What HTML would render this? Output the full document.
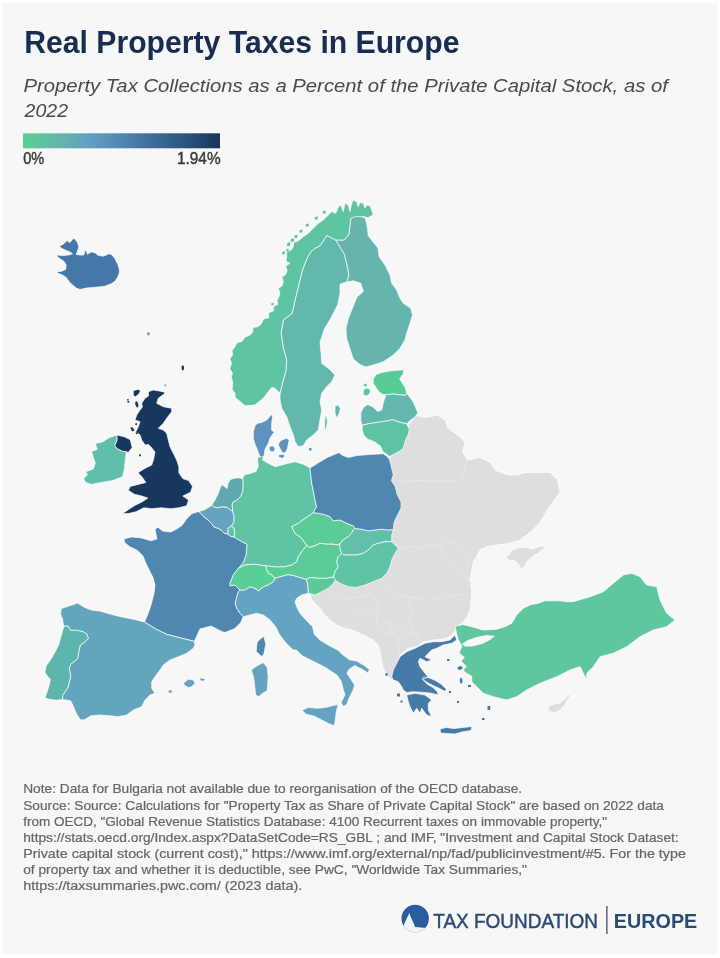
<!DOCTYPE html>
<html lang="en"><head><meta charset="utf-8"><title>Real Property Taxes in Europe</title>
<style>
html,body{margin:0;padding:0;background:#ffffff;}
body{width:720px;height:958px;position:relative;overflow:hidden;}
#card{position:absolute;left:2px;top:3px;width:715px;height:951px;background:#f7f7f7;}
svg{position:absolute;left:0;top:0;}
text{font-family:"Liberation Sans",Arial,sans-serif;}
</style></head>
<body>
<div id="card"></div>
<svg width="720" height="958" viewBox="0 0 720 958">
<defs>
<linearGradient id="lg" x1="0" x2="1" y1="0" y2="0">
<stop offset="0" stop-color="#56d394"/>
<stop offset="0.2" stop-color="#62b4ae"/>
<stop offset="0.35" stop-color="#639cc2"/>
<stop offset="0.5" stop-color="#4f87b3"/>
<stop offset="0.65" stop-color="#3f6c9a"/>
<stop offset="0.81" stop-color="#2a5882"/>
<stop offset="0.95" stop-color="#1b3e66"/>
<stop offset="1" stop-color="#183558"/>
</linearGradient>
</defs>
<text x="24.2" y="52.5" font-size="30.7" font-weight="bold" fill="#182d50" textLength="435.3" lengthAdjust="spacingAndGlyphs">Real Property Taxes in Europe</text>
<text x="23.5" y="91.7" font-size="19.1" font-style="italic" fill="#4a4a4a" textLength="644.4" lengthAdjust="spacingAndGlyphs">Property Tax Collections as a Percent of the Private Capital Stock, as of</text>
<text x="24.6" y="117" font-size="19.1" font-style="italic" fill="#4a4a4a" textLength="43.5" lengthAdjust="spacingAndGlyphs">2022</text>
<rect x="23" y="133.3" width="197" height="15" fill="url(#lg)"/>
<text x="23.2" y="163.6" font-size="16.6" fill="#3a3a3a" stroke="#3a3a3a" stroke-width="0.45" textLength="21" lengthAdjust="spacingAndGlyphs">0%</text>
<text x="177" y="163.6" font-size="16.6" fill="#3a3a3a" stroke="#3a3a3a" stroke-width="0.45" textLength="43.6" lengthAdjust="spacingAndGlyphs">1.94%</text>
<g id="map">
<path d="M408.0 426.0 L412.0 420.5 L416.0 415.5 L425.0 417.5 L437.5 415.0 L445.0 420.0 L447.5 427.5 L457.5 435.0 L465.0 442.5 L462.5 452.5 L467.5 460.0 L480.0 457.5 L490.0 462.5 L495.0 470.0 L507.5 475.0 L517.5 475.0 L525.0 472.5 L537.5 472.5 L550.0 472.5 L557.5 480.0 L560.0 492.5 L552.5 502.5 L547.5 510.0 L540.0 522.5 L530.0 532.5 L520.0 540.0 L507.5 543.8 L497.5 545.0 L487.5 546.2 L480.0 550.0 L476.0 558.0 L473.3 562.0 L471.7 570.0 L470.0 580.0 L471.7 590.0 L471.0 600.0 L470.0 610.0 L467.0 617.0 L463.3 622.0 L458.0 626.5 L455.0 631.0 L450.0 636.7 L443.3 639.2 L433.3 640.0 L423.3 641.7 L416.7 646.7 L408.3 648.3 L400.0 655.0 L395.0 668.3 L393.3 680.0 L391.7 680.0 L386.7 675.0 L383.3 668.3 L381.7 660.0 L380.0 651.7 L378.3 645.0 L373.3 640.0 L366.7 636.7 L360.0 633.3 L351.7 630.0 L345.0 628.3 L336.7 625.0 L330.0 620.0 L323.3 613.3 L320.0 608.3 L316.7 605.0 L311.7 600.0 L310.0 593.3 L320.0 588.0 L335.0 578.0 L360.0 575.0 L385.0 560.0 L388.0 535.0 L395.0 500.0 L388.0 470.0 L389.0 458.0 L394.0 454.0 L400.0 449.0 L404.0 436.0Z" fill="#dedede" stroke="#ffffff" stroke-width="0.7" stroke-linejoin="round"/>
<path d="M506.1 557.5 L511.7 550.6 L518.6 547.8 L525.6 547.1 L532.5 549.2 L539.4 546.4 L545.0 545.7 L543.6 549.2 L538.0 553.3 L531.1 557.5 L526.9 561.7 L524.2 567.2 L521.4 568.6 L518.6 564.4 L514.4 560.3 L508.9 560.3Z" fill="#dedede" stroke="#ffffff" stroke-width="0.7" stroke-linejoin="round"/>
<path d="M548.0 711.0 L549.0 706.0 L554.0 704.0 L560.0 703.0 L565.0 699.0 L569.0 694.0 L570.5 695.0 L567.0 701.0 L564.0 706.0 L560.0 710.0 L555.0 713.0Z" fill="#dedede" stroke="#ffffff" stroke-width="0.7" stroke-linejoin="round"/>
<path d="M400.0 481.0 L420.0 480.5 L440.0 480.8 L461.7 480.0 L465.0 470.0 L466.0 458.0M398.3 548.3 L410.0 546.5 L422.0 547.5 L432.0 545.0 L440.0 546.0M440.0 546.0 L447.0 556.0 L455.0 566.0 L462.0 574.0 L468.0 580.0 L472.0 584.0M440.0 546.0 L446.0 541.5 L454.0 543.5 L461.0 549.0 L466.0 558.0 L468.5 568.0 L466.0 576.0 L469.0 582.0M386.7 589.0 L398.0 597.0 L408.9 596.5 L420.0 599.0 L431.0 600.5 L443.0 598.0 L453.3 595.6 L463.0 594.0 L471.0 593.3M381.7 578.3 L383.0 584.0 L386.7 589.0M408.9 596.5 L410.0 604.0 L412.0 612.0 L410.5 620.0 L412.5 628.0 L417.0 636.0 L418.0 643.0M365.0 585.0 L367.0 590.0 L372.0 594.5M331.0 595.6 L342.0 598.0 L353.0 597.8 L364.0 596.5 L372.0 594.5M372.0 594.5 L376.0 603.0 L378.0 612.0 L377.0 619.0M345.0 628.3 L352.0 620.0 L358.0 611.0 L365.0 607.0 L372.0 612.0 L377.0 619.0M377.0 619.0 L383.0 622.0 L390.0 624.0 L397.0 626.0 L404.0 627.0M377.0 619.0 L376.0 626.0 L381.5 634.0M381.5 634.0 L388.0 632.0 L392.0 635.0 L398.0 640.0 L400.0 648.0 L399.0 655.0M390.0 624.0 L392.0 630.0 L398.0 640.0M404.0 627.0 L410.5 620.0M398.0 640.0 L404.0 637.0 L411.0 634.0 L417.0 636.0" fill="none" stroke="#e7e7e7" stroke-width="0.8" stroke-linejoin="round"/>
<path d="M243.3 616.7 L250.0 615.0 L256.7 613.3 L263.3 615.0 L270.0 620.0 L275.6 626.7 L279.4 634.4 L285.3 642.2 L293.1 650.0 L296.4 650.0 L302.2 655.8 L310.0 659.7 L317.8 663.6 L325.6 667.5 L331.4 671.4 L337.2 675.3 L341.1 681.1 L343.1 688.9 L345.0 694.7 L341.1 702.5 L343.1 706.4 L346.9 704.4 L348.9 698.6 L352.8 690.8 L354.7 685.0 L350.8 679.2 L346.9 673.3 L348.9 669.4 L354.7 665.6 L362.5 669.4 L368.3 673.3 L369.3 669.4 L364.4 665.6 L356.7 661.0 L349.4 659.7 L341.7 653.9 L337.8 650.0 L330.0 646.1 L320.3 640.3 L314.4 634.4 L312.5 626.7 L306.7 620.8 L300.0 613.3 L296.7 606.7 L295.0 601.7 L296.7 598.3 L301.7 595.0 L308.3 593.3 L308.0 586.0 L306.6 579.5 L300.0 577.5 L293.5 575.5 L288.0 574.5 L280.0 576.7 L275.0 578.3 L273.3 581.7 L268.3 585.0 L263.3 586.7 L258.3 590.8 L255.0 588.3 L250.0 586.7 L245.0 590.0 L240.0 590.0 L238.3 591.7 L236.7 596.7 L235.0 603.3 L236.7 608.3 L240.0 613.3ZM302.2 710.3 L308.1 707.4 L317.8 708.3 L325.6 707.4 L333.3 705.4 L338.2 704.4 L336.2 712.2 L335.3 720.0 L334.3 725.8 L329.4 723.9 L321.7 720.0 L313.9 716.1 L306.1 714.2ZM251.7 669.4 L257.5 665.6 L263.3 662.6 L267.2 667.5 L268.2 677.2 L267.2 690.8 L263.3 692.8 L258.5 696.7 L255.6 694.7 L254.6 685.0 L253.6 677.2 L251.7 671.4Z" fill="#64a3c2" stroke="#ffffff" stroke-width="0.7" stroke-linejoin="round"/>
<path d="M242.6 478.7 L244.0 475.0 L250.0 473.5 L256.0 471.5 L258.3 466.0 L257.5 460.0 L258.0 457.0 L264.0 456.5 L262.5 460.0 L268.3 463.3 L275.0 466.7 L281.7 465.0 L288.3 463.3 L295.0 461.7 L303.3 464.2 L308.3 467.0 L310.0 468.0 L310.7 475.0 L311.7 483.0 L313.6 492.5 L315.0 500.0 L316.7 506.7 L313.3 512.5 L311.7 514.2 L305.0 518.3 L298.3 523.3 L291.7 526.7 L295.0 533.3 L301.7 538.3 L306.7 545.5 L301.7 551.7 L298.3 556.7 L296.7 561.7 L291.7 565.0 L285.0 566.7 L276.4 567.1 L268.6 566.1 L265.5 566.0 L260.0 565.0 L253.3 564.2 L245.0 565.0 L238.3 568.3 L243.0 563.0 L246.0 555.4 L247.0 544.5 L240.0 540.8 L234.0 537.0 L234.8 533.2 L233.9 528.3 L231.5 526.0 L233.9 521.5 L233.9 516.6 L232.5 511.0 L232.5 508.0 L231.9 505.0 L232.9 502.1 L236.8 500.1 L240.7 496.2 L242.6 491.4 L243.1 484.6Z" fill="#5ec4a3" stroke="#ffffff" stroke-width="0.7" stroke-linejoin="round"/>
<path d="M199.0 511.5 L191.9 513.6 L186.1 519.4 L182.2 525.3 L176.4 529.2 L170.6 532.1 L162.8 531.1 L157.9 527.2 L155.0 529.2 L156.9 538.9 L151.1 540.8 L141.4 537.9 L131.7 536.9 L123.9 538.9 L124.9 542.8 L129.7 546.7 L137.5 550.6 L143.3 556.4 L145.3 562.2 L149.2 570.0 L153.1 577.8 L155.0 585.6 L154.0 593.3 L151.0 605.0 L147.5 615.0 L144.4 621.9 L155.6 628.9 L166.7 634.4 L177.8 637.2 L188.9 640.0 L194.4 641.4 L200.0 628.9 L211.1 626.1 L222.2 631.7 L225.0 632.5 L234.7 628.6 L240.6 622.8 L243.3 616.7 L240.0 613.3 L236.7 608.3 L235.0 603.3 L236.7 596.7 L238.3 591.7 L240.0 590.0 L235.0 585.0 L230.0 585.8 L230.0 583.3 L233.3 575.0 L238.3 568.3 L243.0 563.0 L246.0 555.4 L247.0 544.5 L240.0 540.8 L234.0 537.0 L230.0 536.1 L228.0 534.1 L224.2 533.2 L221.2 530.3 L218.3 528.3 L214.4 527.3 L211.5 523.5 L207.6 519.6 L202.8 515.7ZM263.9 636.4 L265.8 644.2 L263.9 653.9 L261.5 656.5 L258.0 653.0 L256.1 651.9 L257.1 642.2 L261.0 638.3Z" fill="#5087b0" stroke="#ffffff" stroke-width="0.7" stroke-linejoin="round"/>
<path d="M60.5 614.0 L61.2 608.6 L73.4 604.5 L77.5 603.1 L84.3 607.2 L91.1 609.9 L100.6 611.3 L110.0 614.0 L119.4 616.4 L133.3 619.2 L144.4 621.9 L155.6 628.9 L166.7 634.4 L177.8 637.2 L188.9 640.0 L194.4 641.4 L195.0 645.0 L193.3 648.3 L186.7 653.3 L178.3 656.7 L170.0 660.0 L163.3 665.0 L160.0 670.0 L155.0 676.7 L151.7 681.7 L151.7 688.3 L155.0 693.3 L150.0 695.0 L145.0 700.0 L141.7 706.7 L133.3 710.0 L126.7 715.0 L118.3 716.7 L110.0 715.8 L100.0 715.0 L91.1 715.8 L84.3 719.8 L80.2 719.8 L76.1 713.0 L73.4 706.3 L70.7 700.8 L62.6 699.5 L62.6 695.4 L65.3 691.3 L68.0 687.3 L69.3 681.8 L70.7 676.4 L69.3 668.3 L70.7 664.2 L77.5 658.8 L78.8 652.0 L80.2 645.2 L84.3 642.5 L88.3 638.4 L87.0 634.3 L82.9 631.6 L76.1 630.3 L70.7 630.3 L68.0 626.2 L63.9 626.2 L63.2 623.5 L62.6 619.4ZM183.3 683.3 L188.3 679.2 L193.3 680.0 L195.0 683.3 L191.7 686.7 L188.3 687.5 L185.0 685.8Z" fill="#63a5bd" stroke="#ffffff" stroke-width="0.7" stroke-linejoin="round"/>
<path d="M200.0 678.3 L205.0 679.2 L203.3 680.8 L200.8 680.5ZM168.3 690.8 L171.7 690.0 L171.7 692.5 L169.2 693.0Z" fill="#63a5bd"/>
<path d="M63.9 626.2 L68.0 626.2 L70.7 630.3 L76.1 630.3 L82.9 631.6 L87.0 634.3 L88.3 638.4 L84.3 642.5 L80.2 645.2 L78.8 652.0 L77.5 658.8 L70.7 664.2 L69.3 668.3 L70.7 676.4 L69.3 681.8 L68.0 687.3 L65.3 691.3 L62.6 695.4 L62.6 699.5 L57.1 700.2 L50.4 699.5 L44.9 698.1 L46.3 694.0 L49.0 685.9 L50.4 679.1 L47.6 676.4 L44.9 672.3 L46.3 665.6 L50.4 660.1 L54.4 653.3 L58.5 645.2 L61.2 635.7Z" fill="#5fb5ae" stroke="#ffffff" stroke-width="0.7" stroke-linejoin="round"/>
<path d="M306.7 545.5 L301.7 538.3 L295.0 533.3 L291.7 526.7 L298.3 523.3 L305.0 518.3 L311.7 514.2 L313.3 512.5 L323.3 514.2 L330.0 516.7 L333.3 520.8 L340.0 520.0 L346.7 523.3 L353.3 525.8 L355.0 528.5 L353.3 530.0 L351.7 533.3 L348.3 536.7 L343.3 540.0 L340.0 543.5 L338.3 545.0 L333.3 544.2 L326.7 544.2 L320.0 543.3 L316.7 545.0 L310.0 547.5Z" fill="#5ccb98" stroke="#ffffff" stroke-width="0.7" stroke-linejoin="round"/>
<path d="M265.5 566.0 L268.6 566.1 L276.4 567.1 L285.0 566.7 L291.7 565.0 L296.7 561.7 L298.3 556.7 L301.7 551.7 L306.7 545.5 L310.0 547.5 L316.7 545.0 L320.0 543.3 L326.7 544.2 L333.3 544.2 L338.3 545.0 L340.0 543.5 L340.0 548.3 L341.7 553.5 L338.3 556.7 L336.7 561.7 L338.3 566.7 L335.0 571.7 L333.5 577.0 L326.7 578.3 L318.3 578.3 L310.0 577.5 L306.6 579.5 L300.0 577.5 L293.5 575.5 L288.0 574.5 L280.0 576.7 L275.0 578.3 L271.7 575.0 L268.3 573.3 L266.7 570.0Z" fill="#5ccb98" stroke="#ffffff" stroke-width="0.7" stroke-linejoin="round"/>
<path d="M238.3 568.3 L245.0 565.0 L253.3 564.2 L260.0 565.0 L265.5 566.0 L266.7 570.0 L268.3 573.3 L271.7 575.0 L275.0 578.3 L273.3 581.7 L268.3 585.0 L263.3 586.7 L258.3 590.8 L255.0 588.3 L250.0 586.7 L245.0 590.0 L240.0 590.0 L235.0 585.0 L230.0 585.8 L230.0 583.3 L233.3 575.0Z" fill="#58d095" stroke="#ffffff" stroke-width="0.7" stroke-linejoin="round"/>
<path d="M340.0 543.5 L343.3 540.0 L348.3 536.7 L351.7 533.3 L353.3 530.0 L355.0 528.5 L361.7 529.2 L368.3 530.8 L375.0 530.0 L381.7 529.2 L388.3 530.0 L393.3 529.5 L391.7 535.0 L391.7 541.7 L385.0 541.7 L378.3 543.3 L373.3 545.0 L368.3 550.0 L363.3 553.3 L356.7 555.0 L350.0 555.0 L343.3 555.0 L341.7 553.5 L340.0 548.3Z" fill="#62bfa8" stroke="#ffffff" stroke-width="0.7" stroke-linejoin="round"/>
<path d="M341.7 553.5 L343.3 555.0 L350.0 555.0 L356.7 555.0 L363.3 553.3 L368.3 550.0 L373.3 545.0 L378.3 543.3 L385.0 541.7 L391.7 541.7 L395.0 545.0 L398.3 548.3 L395.0 553.3 L391.7 560.0 L390.0 566.7 L386.7 573.3 L381.7 578.3 L373.3 581.7 L365.0 585.0 L356.7 587.5 L348.3 586.7 L340.0 583.3 L335.5 580.5 L333.5 577.0 L335.0 571.7 L338.3 566.7 L336.7 561.7 L338.3 556.7Z" fill="#60c2a6" stroke="#ffffff" stroke-width="0.7" stroke-linejoin="round"/>
<path d="M333.5 577.0 L326.7 578.3 L318.3 578.3 L310.0 577.5 L306.6 579.5 L308.0 586.0 L308.3 593.3 L315.0 595.0 L321.7 591.7 L328.3 588.3 L333.3 583.3 L335.5 580.5Z" fill="#5cc99a" stroke="#ffffff" stroke-width="0.7" stroke-linejoin="round"/>
<path d="M310.0 468.0 L310.7 475.0 L311.7 483.0 L313.6 492.5 L315.0 500.0 L316.7 506.7 L313.3 512.5 L323.3 514.2 L330.0 516.7 L333.3 520.8 L340.0 520.0 L346.7 523.3 L353.3 525.8 L355.0 528.5 L361.7 529.2 L368.3 530.8 L375.0 530.0 L381.7 529.2 L388.3 530.0 L393.3 529.5 L394.2 522.0 L397.2 515.8 L401.1 508.1 L401.1 502.2 L397.2 494.4 L395.3 486.7 L391.4 480.8 L393.3 475.0 L391.4 467.2 L391.0 465.0 L389.4 459.4 L387.2 456.5 L383.3 453.8 L368.1 454.6 L356.4 455.6 L348.6 457.5 L342.8 455.6 L338.9 452.6 L327.2 457.5 L317.5 463.3Z" fill="#5087b0" stroke="#ffffff" stroke-width="0.7" stroke-linejoin="round"/>
<path d="M211.5 505.5 L215.4 499.2 L218.3 493.3 L220.3 487.5 L222.2 484.6 L224.2 486.5 L227.1 488.5 L228.0 483.6 L230.0 479.7 L233.9 478.3 L238.7 477.8 L242.6 478.7 L243.1 484.6 L242.6 491.4 L240.7 496.2 L236.8 500.1 L232.9 502.1 L231.9 505.0 L232.5 508.0 L232.5 511.0 L230.0 509.8 L227.1 507.4 L222.2 506.9 L216.4 507.9Z" fill="#62a8b0" stroke="#ffffff" stroke-width="0.7" stroke-linejoin="round"/>
<path d="M199.0 511.5 L204.7 509.8 L211.5 505.5 L216.4 507.9 L222.2 506.9 L227.1 507.4 L230.0 509.8 L232.5 511.0 L233.9 516.6 L233.9 521.5 L231.5 526.0 L228.0 528.3 L228.0 534.1 L224.2 533.2 L221.2 530.3 L218.3 528.3 L214.4 527.3 L211.5 523.5 L207.6 519.6 L202.8 515.7Z" fill="#65a3c0" stroke="#ffffff" stroke-width="0.7" stroke-linejoin="round"/>
<path d="M231.5 526.0 L228.0 528.3 L228.0 534.1 L230.0 536.1 L234.0 537.0 L234.8 533.2 L233.9 528.3Z" fill="#5ec4a3" stroke="#ffffff" stroke-width="0.7" stroke-linejoin="round"/>
<path d="M271.7 414.2 L266.7 420.0 L261.7 422.5 L257.5 423.3 L255.0 425.8 L253.3 431.7 L253.3 438.3 L255.0 444.2 L257.5 450.0 L259.2 455.0 L261.5 457.5 L264.2 455.5 L265.0 449.2 L268.3 443.3 L270.0 438.3 L272.5 434.2 L274.2 432.5 L271.7 430.0 L271.7 423.3 L272.5 417.5ZM269.2 446.7 L272.5 445.8 L275.0 448.3 L274.2 451.7 L270.8 451.7 L269.2 449.2ZM279.2 442.5 L281.7 440.0 L286.7 438.3 L289.2 440.0 L288.3 444.2 L287.5 448.3 L285.8 451.7 L284.2 453.3 L281.7 451.7 L280.0 448.3 L278.3 445.0ZM278.3 455.0 L282.5 454.2 L285.0 455.8 L282.5 458.3 L279.2 457.5Z" fill="#5e92bf" stroke="#ffffff" stroke-width="0.7" stroke-linejoin="round"/>
<path d="M309.0 448.0 L311.5 448.0 L311.5 450.5 L309.0 450.5Z" fill="#5e92bf"/>
<path d="M335.6 240.0 L337.8 243.3 L344.4 254.4 L346.7 263.3 L348.9 274.4 L347.0 282.0 L342.2 283.3 L340.0 284.4 L340.0 293.3 L337.8 304.4 L331.1 317.8 L324.4 328.9 L320.0 342.2 L321.1 353.3 L321.7 363.3 L328.3 368.3 L335.0 375.0 L331.7 381.7 L326.7 386.7 L321.7 393.3 L320.0 401.7 L321.7 410.0 L320.0 420.0 L318.3 430.0 L313.3 435.0 L306.7 440.0 L303.3 445.8 L298.3 446.7 L295.0 441.7 L293.3 435.0 L290.0 426.7 L286.7 416.7 L281.7 408.3 L280.0 400.0 L280.0 393.3 L283.3 380.0 L285.8 371.7 L286.7 360.0 L283.3 348.0 L281.1 333.3 L283.3 320.0 L292.2 313.3 L295.6 297.8 L299.2 283.3 L300.8 276.7 L302.5 270.0 L305.0 263.3 L307.5 257.5 L310.8 251.7 L315.0 248.3 L320.0 245.8 L323.3 240.8 L326.7 235.5 L329.0 236.5ZM335.0 406.0 L338.0 405.0 L340.5 408.5 L339.0 414.0 L336.5 418.0 L335.0 413.0ZM325.0 417.0 L326.5 416.0 L327.5 422.0 L326.0 430.0 L324.5 428.0Z" fill="#62b8ad" stroke="#ffffff" stroke-width="0.7" stroke-linejoin="round"/>
<path d="M335.6 240.0 L344.4 240.0 L348.9 234.4 L350.8 218.3 L355.6 215.9 L360.5 215.9 L365.3 218.3 L367.3 227.0 L368.3 235.8 L372.0 240.6 L377.8 247.8 L378.3 250.0 L379.2 256.7 L385.0 265.0 L390.0 275.0 L391.7 283.3 L396.7 290.0 L400.0 298.3 L403.3 303.3 L410.8 308.3 L412.5 315.0 L410.0 323.3 L406.7 333.3 L405.0 340.0 L400.0 348.3 L393.3 355.0 L383.3 361.7 L373.3 365.0 L366.0 367.0 L360.0 364.5 L353.3 359.0 L350.0 349.0 L346.5 338.0 L346.0 328.0 L348.5 318.0 L353.0 306.7 L357.0 297.0 L363.3 291.5 L360.8 283.3 L353.3 280.8 L347.0 282.0 L348.9 274.4 L346.7 263.3 L344.4 254.4 L337.8 243.3Z" fill="#65b4ae" stroke="#ffffff" stroke-width="0.7" stroke-linejoin="round"/>
<path d="M373.3 215.0 L371.7 210.0 L370.0 205.8 L366.7 205.0 L365.0 208.3 L363.3 203.3 L360.0 202.5 L358.3 206.7 L356.7 201.7 L353.3 200.0 L351.7 203.3 L350.0 211.7 L348.3 205.0 L345.0 203.3 L343.3 211.7 L340.8 205.0 L338.3 206.7 L335.8 213.3 L331.7 211.7 L328.3 215.0 L323.3 220.0 L318.3 223.3 L313.3 228.3 L308.3 233.3 L303.3 236.7 L297.8 241.1 L293.6 242.6 L293.3 247.0 L291.1 250.0 L286.6 251.9 L286.7 256.7 L285.8 261.3 L290.0 263.3 L285.7 265.9 L287.1 270.7 L285.6 274.4 L281.9 277.3 L283.3 281.9 L282.2 285.6 L278.2 288.4 L280.0 293.0 L278.9 296.7 L277.0 300.4 L277.8 304.4 L273.8 306.5 L273.4 311.1 L268.5 312.7 L268.9 317.8 L263.6 318.8 L261.5 323.7 L257.8 326.7 L253.0 327.4 L252.6 332.2 L250.0 335.0 L244.9 337.2 L241.7 341.7 L237.0 342.5 L235.0 346.7 L232.1 350.3 L232.5 355.0 L229.8 358.9 L231.7 363.3 L229.7 368.5 L232.5 373.3 L231.2 377.2 L232.5 381.1 L232.5 385.0 L232.1 389.6 L235.0 393.3 L235.0 397.5 L238.3 400.0 L245.0 405.8 L255.0 405.0 L263.3 398.3 L268.3 391.7 L271.7 387.5 L275.0 388.3 L280.0 393.3 L283.3 380.0 L285.8 371.7 L286.7 360.0 L283.3 348.0 L281.1 333.3 L283.3 320.0 L292.2 313.3 L295.6 297.8 L299.2 283.3 L300.8 276.7 L302.5 270.0 L305.0 263.3 L307.5 257.5 L310.8 251.7 L315.0 248.3 L320.0 245.8 L323.3 240.8 L326.7 235.5 L329.0 236.5 L335.6 240.0 L344.4 240.0 L348.9 234.4 L350.8 218.3 L355.6 216.7 L364.4 216.7 L367.8 217.8Z" fill="#5ec4a4" stroke="#ffffff" stroke-width="0.7" stroke-linejoin="round"/>
<path d="M287.5 242.9 L290.5 242.1 L289.8 245.9 L286.8 245.9ZM290.9 238.9 L294.2 238.2 L293.6 241.8 L290.6 241.5ZM294.8 235.1 L297.8 234.9 L297.2 238.1 L294.5 237.9ZM282.4 251.8 L285.1 251.2 L284.8 254.2 L282.1 254.2ZM286.5 249.0 L288.8 248.7 L288.5 251.4 L286.2 251.4ZM271.5 303.0 L273.8 302.8 L273.5 305.4 L271.2 305.1ZM299.6 230.2 L302.6 229.6 L302.2 232.6 L299.2 232.6ZM305.9 224.2 L308.9 223.6 L308.6 226.6 L305.6 226.6ZM314.9 217.1 L317.9 216.4 L317.6 219.4 L314.6 219.4ZM322.9 211.1 L325.9 210.4 L325.6 213.4 L322.6 213.4Z" fill="#5ec4a4"/>
<path d="M373.3 378.8 L376.1 374.6 L381.7 372.5 L388.6 371.1 L395.6 370.4 L403.9 369.7 L403.2 373.9 L399.7 378.8 L402.5 383.6 L405.3 387.8 L406.7 393.3 L405.3 395.4 L398.3 394.7 L392.8 394.0 L387.2 394.7 L383.0 394.7 L378.9 391.9 L376.1 387.8 L373.3 383.6ZM363.6 390.0 L366.0 388.0 L369.5 388.5 L370.6 392.0 L368.0 395.5 L364.5 396.0 L363.0 393.0Z" fill="#58cc96" stroke="#ffffff" stroke-width="0.7" stroke-linejoin="round"/>
<path d="M363.6 384.2 L366.5 383.6 L367.0 386.0 L364.5 386.6Z" fill="#58cc96"/>
<path d="M383.0 394.7 L387.2 394.7 L392.8 394.0 L398.3 394.7 L405.3 395.4 L406.7 393.3 L412.2 400.3 L415.0 405.8 L417.8 412.8 L415.0 416.9 L409.4 421.1 L406.7 423.9 L398.3 421.8 L392.8 419.7 L385.8 421.1 L376.1 422.5 L367.8 423.9 L362.2 425.3 L360.8 421.1 L360.8 412.8 L363.6 407.2 L367.8 404.4 L373.3 407.2 L377.5 411.4 L381.7 410.0 L383.0 404.4 L384.4 398.9 L385.8 396.1Z" fill="#64b7ae" stroke="#ffffff" stroke-width="0.7" stroke-linejoin="round"/>
<path d="M362.2 425.3 L367.8 423.9 L376.1 422.5 L385.8 421.1 L392.8 419.7 L398.3 421.8 L406.7 423.9 L409.4 429.4 L408.0 435.0 L405.3 440.6 L403.9 446.1 L402.8 448.9 L398.3 451.7 L393.5 454.5 L389.5 456.5 L386.0 453.8 L383.0 451.7 L380.3 446.1 L374.7 441.9 L367.8 439.2 L363.6 435.0 L362.2 429.4Z" fill="#5fc2a5" stroke="#ffffff" stroke-width="0.7" stroke-linejoin="round"/>
<path d="M148.3 391.7 L153.3 390.0 L163.3 391.7 L165.0 393.3 L158.3 398.3 L156.7 403.3 L163.3 406.7 L171.7 408.3 L171.7 411.7 L166.7 418.3 L163.3 423.3 L158.3 428.3 L163.3 430.0 L166.7 433.3 L168.3 440.0 L170.0 446.7 L173.3 453.3 L176.7 460.0 L178.9 466.9 L178.9 472.8 L182.8 478.6 L188.6 480.6 L192.5 486.4 L190.6 492.2 L182.8 496.1 L188.6 500.0 L186.7 505.8 L178.9 507.8 L171.1 508.7 L161.4 507.8 L151.7 508.7 L143.9 507.8 L136.1 511.7 L128.3 513.6 L122.5 513.6 L128.3 509.7 L134.2 505.8 L141.9 501.9 L147.8 498.1 L141.9 496.1 L134.2 494.2 L128.3 490.3 L130.3 486.4 L138.1 484.4 L145.8 482.5 L141.9 476.7 L138.1 472.8 L143.9 468.9 L151.7 465.0 L153.6 459.2 L155.0 452.0 L151.0 447.0 L148.5 444.6 L145.0 445.0 L141.7 440.0 L140.0 435.0 L135.8 431.7 L138.3 426.7 L140.0 421.7 L135.0 420.0 L136.7 415.0 L140.0 410.0 L142.4 407.0 L141.7 403.3 L145.0 398.3 L148.5 395.9ZM116.7 434.9 L124.4 436.8 L130.3 439.7 L132.2 447.5 L128.3 452.4 L122.5 451.4 L116.7 448.5 L114.7 445.6 L117.0 440.0ZM133.3 390.6 L138.9 389.2 L140.3 391.3 L138.9 394.0 L135.4 396.8 L133.3 395.4ZM135.4 401.0 L137.5 401.0 L138.9 405.1 L138.2 407.9 L136.1 407.2 L134.7 403.8Z" fill="#17375e" stroke="#ffffff" stroke-width="0.7" stroke-linejoin="round"/>
<path d="M127.4 400.9 L129.3 400.9 L129.3 402.6 L127.4 402.6ZM130.7 427.2 L132.8 427.4 L132.6 429.6 L130.6 429.3ZM135.8 432.2 L137.6 432.2 L137.6 434.0 L135.8 434.0ZM139.2 454.2 L140.9 454.2 L140.9 456.2 L139.2 456.2ZM127.2 399.0 L128.6 399.0 L128.6 400.4 L127.2 400.4ZM131.0 429.0 L133.5 428.2 L134.5 430.5 L132.0 431.5ZM135.3 423.3 L137.0 423.3 L137.0 425.0 L135.3 425.0Z" fill="#17375e"/>
<path d="M108.9 437.8 L116.7 434.9 L117.0 440.0 L114.7 445.6 L116.7 448.5 L122.5 451.4 L126.4 451.4 L125.4 459.2 L124.4 468.9 L122.5 476.7 L112.8 480.6 L101.1 482.5 L91.4 484.4 L85.6 482.5 L83.6 478.6 L87.5 474.7 L85.6 471.8 L93.3 468.9 L95.3 463.1 L93.3 457.2 L91.4 451.4 L97.2 449.4 L95.3 443.6 L103.1 441.7Z" fill="#60bfaa" stroke="#ffffff" stroke-width="0.7" stroke-linejoin="round"/>
<path d="M59.4 246.2 L63.8 243.8 L66.9 240.6 L70.0 242.5 L71.9 240.0 L73.8 238.1 L75.6 240.0 L77.5 242.5 L78.8 246.9 L77.5 251.2 L76.2 254.4 L80.0 255.0 L83.8 255.0 L85.0 250.6 L86.2 250.0 L87.5 254.4 L89.4 253.1 L91.2 251.9 L93.8 252.5 L95.6 253.1 L97.5 255.0 L100.0 255.6 L102.5 256.2 L105.0 255.6 L108.8 253.8 L111.2 254.4 L113.1 256.2 L115.0 258.8 L116.2 261.2 L118.1 265.0 L119.4 270.0 L119.4 273.1 L117.5 277.5 L115.0 281.2 L111.2 283.8 L105.0 286.2 L98.8 286.9 L92.5 287.5 L86.2 288.1 L80.0 289.4 L76.2 288.1 L72.5 285.0 L69.4 281.9 L66.2 277.5 L62.5 275.0 L57.5 273.1 L56.9 271.9 L61.9 271.2 L65.6 269.4 L66.2 265.0 L63.8 261.2 L60.0 258.8 L56.9 256.2 L57.5 255.0 L62.5 255.6 L68.8 255.0 L72.5 253.8 L70.0 251.9 L65.0 250.0 L61.2 248.1Z" fill="#4478a8" stroke="#ffffff" stroke-width="0.7" stroke-linejoin="round"/>
<path d="M391.7 676.7 L393.3 670.0 L396.7 663.3 L400.0 656.7 L406.7 651.7 L415.0 648.3 L425.0 643.3 L433.3 641.7 L441.7 641.7 L450.0 640.0 L455.0 635.0 L456.7 640.0 L451.7 643.3 L443.3 645.0 L436.7 648.3 L431.7 650.0 L428.3 653.3 L425.0 656.7 L431.7 660.0 L426.7 661.7 L420.0 658.3 L418.3 661.7 L420.0 666.7 L425.0 673.3 L428.0 677.0 L423.0 679.5 L427.0 684.0 L433.0 687.5 L437.5 692.0 L438.3 695.0 L431.7 693.3 L425.0 692.5 L413.3 691.7 L406.7 692.5 L403.3 690.0 L401.7 686.7 L398.3 681.7 L393.3 680.0ZM406.7 695.0 L415.0 693.3 L425.0 695.0 L431.7 700.0 L428.3 703.3 L428.3 710.0 L431.7 716.7 L426.7 715.0 L421.7 708.3 L420.0 713.3 L416.7 708.3 L413.3 713.3 L410.0 706.7 L408.3 701.7ZM440.0 729.0 L446.0 727.5 L454.0 728.5 L463.0 727.5 L472.0 726.5 L471.0 730.5 L462.0 732.0 L455.0 734.0 L447.0 733.5 L440.5 733.0ZM423.5 677.0 L429.0 677.8 L435.0 680.3 L441.0 684.0 L446.5 689.2 L444.8 691.3 L439.0 688.3 L432.5 685.3 L426.5 682.0 L422.3 679.5ZM457.0 667.0 L461.0 665.5 L463.5 668.0 L460.0 670.5 L457.5 669.5ZM459.5 678.0 L462.5 677.5 L463.0 682.0 L461.0 684.5 L459.5 682.0Z" fill="#467ba8" stroke="#ffffff" stroke-width="0.7" stroke-linejoin="round"/>
<path d="M468.0 685.0 L471.0 685.0 L471.0 687.0 L468.0 687.0ZM487.5 706.0 L490.5 706.0 L490.0 710.0 L487.5 710.0ZM385.5 673.0 L387.5 673.0 L387.5 676.0 L385.5 676.0ZM397.0 693.5 L400.0 693.5 L400.0 696.5 L397.0 696.5ZM400.5 700.5 L402.5 700.5 L402.5 702.5 L400.5 702.5ZM447.0 659.0 L449.5 659.0 L449.5 661.0 L447.0 661.0ZM449.0 691.0 L451.0 691.0 L451.0 693.0 L449.0 693.0ZM457.0 701.0 L459.0 701.0 L459.0 703.0 L457.0 703.0ZM482.0 718.0 L484.5 718.0 L484.5 720.0 L482.0 720.0Z" fill="#467ba8"/>
<path d="M455.0 626.5 L463.0 624.5 L471.7 626.7 L483.3 630.0 L496.7 629.2 L505.0 626.7 L511.7 623.3 L516.7 615.0 L523.3 608.3 L530.0 605.0 L538.3 603.3 L545.0 600.8 L553.3 600.8 L560.0 600.8 L566.7 601.7 L573.3 601.7 L590.0 596.7 L603.3 591.7 L613.3 583.3 L623.3 575.0 L631.7 573.3 L640.0 576.7 L646.7 585.0 L656.7 586.7 L660.0 600.0 L666.7 613.3 L675.0 620.0 L666.7 626.7 L653.3 630.0 L640.0 636.7 L626.7 646.7 L613.3 653.3 L600.0 656.7 L593.3 666.7 L586.7 673.3 L586.7 680.0 L583.3 673.3 L580.0 666.7 L570.0 670.0 L556.7 676.7 L540.0 683.3 L526.7 690.0 L516.7 696.7 L506.7 700.0 L493.3 696.7 L483.3 693.3 L478.0 688.0 L472.0 682.0 L471.5 676.0 L466.0 673.0 L463.3 670.0 L466.5 666.5 L461.0 661.0 L464.5 657.5 L459.0 653.0 L462.0 646.0 L458.3 640.0Z" fill="#5ec79e" stroke="#ffffff" stroke-width="0.7" stroke-linejoin="round"/>
<path d="M462.0 644.0 L468.0 640.0 L476.7 637.0 L486.7 635.0 L495.0 636.0 L490.0 640.0 L482.0 644.0 L472.0 646.5 L465.0 646.5Z" fill="#f7f7f7"/>
<ellipse cx="182.8" cy="367.8" rx="1.3" ry="2.6" fill="#17375e"/>
<ellipse cx="148.4" cy="333.8" rx="1.4" ry="1.6" fill="#8a8f96"/>
<ellipse cx="165.3" cy="385.3" rx="1.1" ry="1.1" fill="#9aa0a8"/>
</g>
<g font-size="12.6" fill="#666666" stroke="#6a6a6a" stroke-width="0.22">
<text x="23.2" y="793.40" textLength="498.9" lengthAdjust="spacingAndGlyphs">Note: Data for Bulgaria not available due to reorganisation of the OECD database.</text>
<text x="23.2" y="809.52" textLength="640.8" lengthAdjust="spacingAndGlyphs">Source: Source: Calculations for "Property Tax as Share of Private Capital Stock" are based on 2022 data</text>
<text x="23.2" y="825.64" textLength="583.9" lengthAdjust="spacingAndGlyphs">from OECD, "Global Revenue Statistics Database: 4100 Recurrent taxes on immovable property,"</text>
<text x="23.2" y="841.76" textLength="655.5" lengthAdjust="spacingAndGlyphs">https://stats.oecd.org/Index.aspx?DataSetCode=RS_GBL ; and IMF, "Investment and Capital Stock Dataset:</text>
<text x="23.2" y="857.88" textLength="662.7" lengthAdjust="spacingAndGlyphs">Private capital stock (current cost)," https://www.imf.org/external/np/fad/publicinvestment/#5. For the type</text>
<text x="23.2" y="874.00" textLength="503.8" lengthAdjust="spacingAndGlyphs">of property tax and whether it is deductible, see PwC, "Worldwide Tax Summaries,"</text>
<text x="23.2" y="890.12" textLength="279.1" lengthAdjust="spacingAndGlyphs">https://taxsummaries.pwc.com/ (2023 data).</text>
</g>
<g id="logo">
<clipPath id="lc"><circle cx="415.2" cy="918.5" r="13.7"/></clipPath>
<circle cx="415.2" cy="918.5" r="13.7" fill="#2a5c9e"/>
<g clip-path="url(#lc)" fill="#f2f5f9">
<path d="M409.3 912.8 L410.1 915.5 L411.2 918 L412.6 921 L414 924 L415.2 927 L430 928.3 L430 934 L400 934 L400 927 L403.2 926.5 L404.4 923.5 L405.8 920.5 L407.2 917.5 L408.4 915.2 Z"/>
</g>
<text x="433.3" y="927.6" font-size="21" fill="#2c4a72" stroke="#2c4a72" stroke-width="0.45" textLength="164.7" lengthAdjust="spacingAndGlyphs">TAX FOUNDATION</text>
<rect x="606.2" y="906" width="1.3" height="28" fill="#3a5070"/>
<text x="613.8" y="927.8" font-size="20.8" font-weight="bold" fill="#2c4a72" textLength="83.5" lengthAdjust="spacingAndGlyphs">EUROPE</text>
</g>
</svg>
</body></html>
